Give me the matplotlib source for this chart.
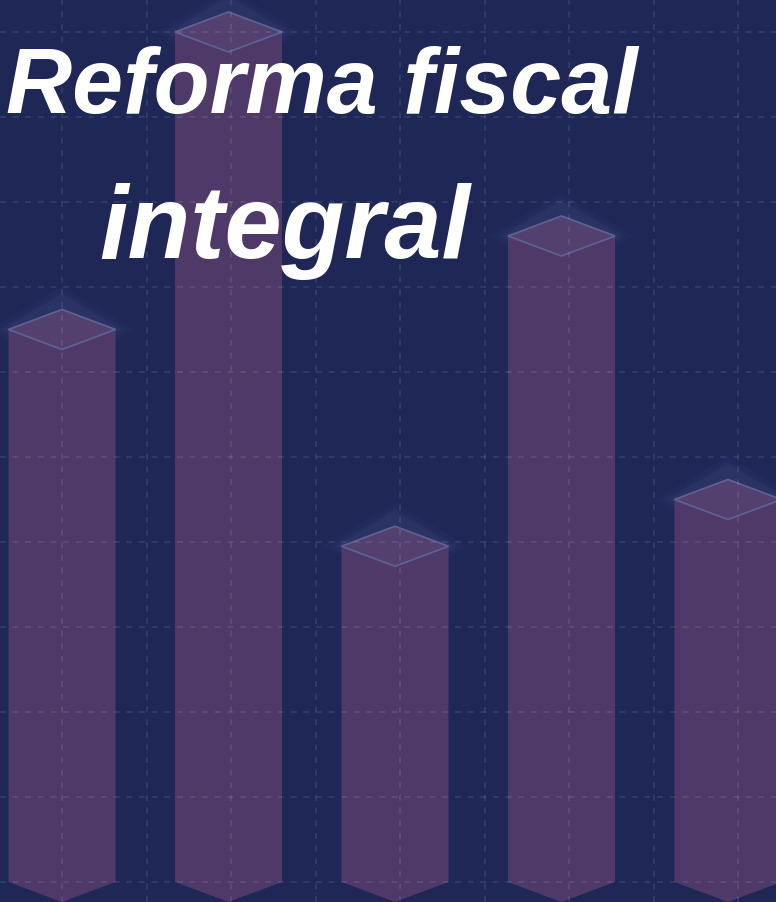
import numpy as np
import matplotlib
matplotlib.use("Agg")
import matplotlib.pyplot as plt
from matplotlib.patches import Polygon

# ---- data ----
categories = ["A", "B", "C", "D", "E"]
values = [6.5, 10.0, 3.95, 7.6, 4.5]
title_line1 = "Reforma fiscal"
title_line2 = "integral"

# ---- style ----
BG = "#1f2757"
BAR = "#4e3969"
TOP = "#53406f"
EDGE = "#5c6194"
W, H = 776, 903
PX_X = 166.5   # pixels per category step
PX_Y = 85.0    # pixels per value unit
bar_w = 107 / PX_X
tip = 20 / PX_Y

fig = plt.figure(figsize=(W / 100, H / 100), dpi=100, facecolor=BG)
ax = fig.add_axes([0, 0, 1, 1], facecolor=BG)
ax.set_xlim(-62 / PX_X, (W - 62) / PX_X)
ax.set_ylim(-20 / PX_Y, 883 / PX_Y)

xs = np.arange(len(categories))
for x, v in zip(xs, values):
    l, r = x - bar_w / 2, x + bar_w / 2
    body = Polygon([(l, v), (l, 0), (x, -tip), (r, 0), (r, v)], closed=True,
                   facecolor=BAR, edgecolor="none", zorder=2)
    ax.add_patch(body)
    # soft glow around the top face
    for k, a in zip([1.35, 1.2, 1.1], [0.035, 0.04, 0.05]):
        g = Polygon([(x - bar_w / 2 * k, v), (x, v + tip * k * 1.6), (x + bar_w / 2 * k, v),
                     (x, v - tip * k * 1.6)],
                    closed=True, facecolor="#8a90d0", edgecolor="none", alpha=a, zorder=1)
        ax.add_patch(g)
    top = Polygon([(l, v), (x, v + tip), (r, v), (x, v - tip)], closed=True,
                  facecolor=TOP, edgecolor=EDGE, linewidth=1.3, zorder=3)
    ax.add_patch(top)

# grid (background pattern)
vticks = (84.5 * np.arange(10)) / PX_X
hticks = np.arange(0, 11)
for t in vticks:
    ax.axvline(t, color="white", alpha=0.09, lw=1.4, dashes=(3, 3.5), zorder=4)
for t in hticks:
    ax.axhline(t, color="white", alpha=0.09, lw=1.4, dashes=(3, 3.5), zorder=4)

ax.set_xticks([])
ax.set_yticks([])
for s in ax.spines.values():
    s.set_visible(False)

fam = ["Liberation Sans", "DejaVu Sans"]
fig.text(322 / W, 1 - 113 / H, title_line1, ha="center", va="baseline", color="white",
         fontsize=66, fontweight="bold", fontstyle="italic", family=fam)
fig.text(285 / W, 1 - 258 / H, title_line2, ha="center", va="baseline", color="white",
         fontsize=74, fontweight="bold", fontstyle="italic", family=fam)

fig.savefig("out.png", dpi=100, facecolor=BG)
